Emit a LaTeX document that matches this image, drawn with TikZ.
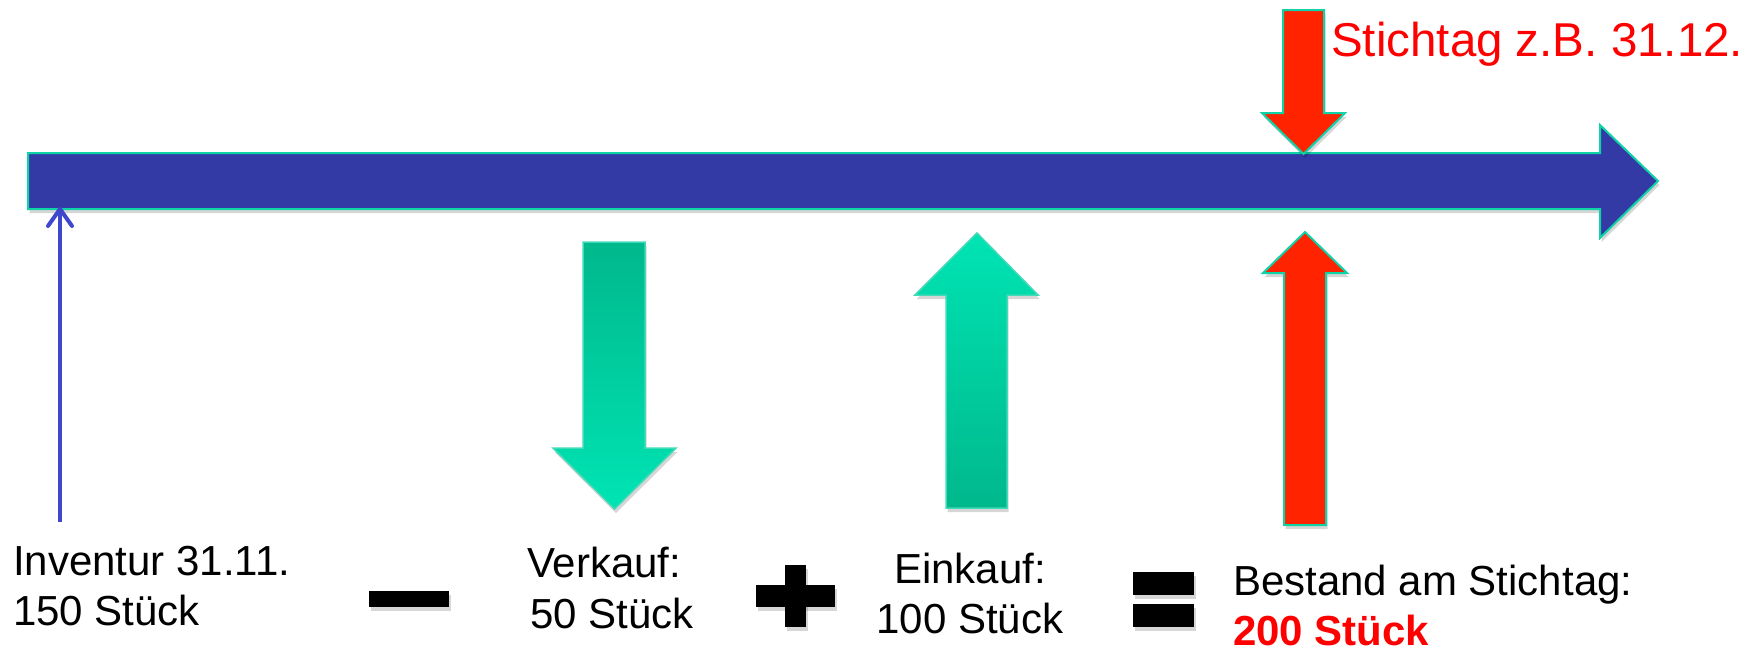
\documentclass[tikz,border=0pt]{standalone}
\usepackage{fontspec}
\setmainfont{Liberation Sans}
\usetikzlibrary{arrows.meta}
\definecolor{barblue}{HTML}{333AA6}
\definecolor{thinblue}{HTML}{3F47CC}
\definecolor{edgeteal}{HTML}{0FD2A6}
\definecolor{redfill}{HTML}{FF2300}
\definecolor{txtred}{HTML}{FF0000}
\definecolor{grdark}{HTML}{00B88C}
\definecolor{grlight}{HTML}{00E4B4}
\tikzset{
  shad/.style={preaction={fill=black,fill opacity=0.16,draw=none,transform canvas={xshift=1.5pt,yshift=-4pt}}},
  bar/.style={shad,fill=barblue,draw=edgeteal,line width=2pt,line join=miter},
  redarr/.style={shad,fill=redfill,draw=edgeteal,line width=2pt},
  grarr/.style={shad,draw=edgeteal!80!white,line width=1.5pt},
  sign/.style={shad,fill=black,draw=none},
  lbl/.style={inner sep=0pt,anchor=base west,font=\fontsize{42}{50}\selectfont},
  lblc/.style={inner sep=0pt,anchor=base,font=\fontsize{42}{50}\selectfont},
  thin/.style={draw=thinblue,line width=4pt,-{Straight Barb[length=17pt,width=24pt,line cap=round,line join=round]}}
}
\begin{document}
\begin{tikzpicture}[x=1pt,y=-1pt]
\useasboundingbox (0,0) rectangle (1753,651);
% time axis
\path[bar] (28,153) -- (1600,153) -- (1600,125) -- (1658,181) -- (1600,238) -- (1600,209) -- (28,209) -- cycle;
% red arrow from top
\path[redarr] (1283,10) -- (1324,10) -- (1324,113) -- (1345,113) -- (1303.5,154) -- (1262,113) -- (1283,113) -- cycle;
% red arrow from bottom
\path[redarr] (1284,525) -- (1326,525) -- (1326,273) -- (1347,273) -- (1305,232) -- (1263,273) -- (1284,273) -- cycle;
% green down arrow
\shadedraw[grarr,top color=grdark,bottom color=grlight] (583,242) -- (645,242) -- (645,448) -- (676,448) -- (614.5,509) -- (553,448) -- (583,448) -- cycle;
% green up arrow
\shadedraw[grarr,top color=grlight,bottom color=grdark] (946,508) -- (1007,508) -- (1007,295) -- (1038,295) -- (977,233) -- (915,295) -- (946,295) -- cycle;
% thin arrow
\coordinate (thinstart) at (60,522);
\coordinate (thinend) at (60,207);
\draw[thin] (thinstart) -- (thinend);
% signs
\path[sign] (369,591) rectangle (449,607);
\path[sign] (785,565) rectangle (806,627);
\path[sign] (756,585) rectangle (835,607);
\path[sign] (1133,572) rectangle (1194,595);
\path[sign] (1133,604) rectangle (1194,627);
% texts
\node[inner sep=0pt,anchor=base west,text=txtred,font=\fontsize{47.5}{56}\selectfont] (stichtag) at (1331,56) {Stichtag z.B. 31.12.};
\node[lbl] (inv1) at (13,575) {Inventur 31.11.};
\node[lbl] (inv2) at (13,625) {150 Stück};
\node[lbl] (vk1) at (527,577) {Verkauf:};
\node[lbl] (vk2) at (530,628) {50 Stück};
\node[lblc] (ek1) at (970,583) {Einkauf:};
\node[lblc] (ek2) at (970,633) {100 Stück};
\node[lbl] (bs1) at (1233,595) {Bestand am Stichtag:};
\node[lbl,text=txtred,font=\fontsize{42}{50}\selectfont\bfseries] (bs2) at (1233,645) {200 Stück};
\end{tikzpicture}
\end{document}
